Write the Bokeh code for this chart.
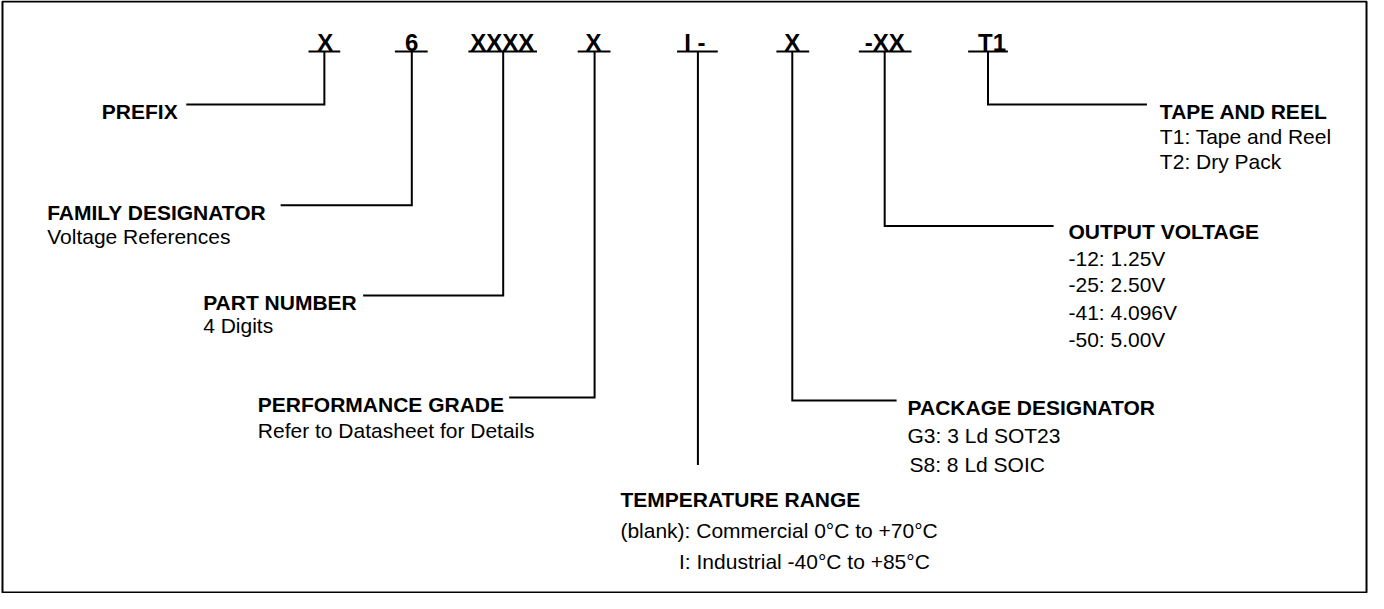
from bokeh.plotting import figure
from bokeh.models import ColumnDataSource, Range1d
from bokeh.core.properties import value
from bokeh.embed import file_html
from bokeh.resources import INLINE

# ---------------- content ----------------
codes = ["X", "6", "XXXX", "X", "I -", "X", "-XX", "T1"]
titles = ["PREFIX", "FAMILY DESIGNATOR", "PART NUMBER", "PERFORMANCE GRADE",
          "TEMPERATURE RANGE", "PACKAGE DESIGNATOR", "OUTPUT VOLTAGE", "TAPE AND REEL"]
details = [
    [],
    ["Voltage References"],
    ["4 Digits"],
    ["Refer to Datasheet for Details"],
    ["(blank): Commercial 0°C to +70°C", "I: Industrial -40°C to +85°C"],
    ["G3: 3 Ld SOT23", "S8: 8 Ld SOIC"],
    ["-12: 1.25V", "-25: 2.50V", "-41: 4.096V", "-50: 5.00V"],
    ["T1: Tape and Reel", "T2: Dry Pack"],
]

# ---------------- layout (reference pixel coordinates) ----------------
code_text_x = [330, 417, 508, 600, 702, 800, 893, 1001]
code_baseline = 44
ul_left = [313, 400, 474, 584, 684, 784, 867, 977]
ul_right = [345, 433, 543, 617, 725, 817, 920, 1017]
ul_y = 53
stem_x = [329, 417, 509, 601, 705, 800, 893, 997]
leader_y = [107, 210, 302, 406, 475, 409, 231, 107]
leader_end_x = [190, 285, 368, 515, None, 905, 1063, 1157]
title_x = [105, 50, 207, 262, 627, 916, 1078, 1170]
title_base = [114, 217, 309, 413, 510, 416, 237, 114]
detail_x = [[], [50], [207], [262], [627, 686], [916, 918], [1078] * 4, [1170, 1170]]
detail_base = [[], [242], [333], [440], [542, 573], [445, 474],
               [264, 291, 319, 347], [140, 165]]

FONT = "Liberation Sans"

p = figure(width=1368, height=593, x_range=Range1d(3, 1380), y_range=Range1d(606, 1),
           output_backend="svg", toolbar_location=None, min_border=0)
p.axis.visible = False
p.grid.visible = False
p.outline_line_color = None
p.background_fill_color = "white"
p.border_fill_color = "white"

# outer frame
p.quad(left=[5], right=[1378], top=[2], bottom=[605], fill_color=None,
       line_color="black", line_width=2)

# underlines
p.segment(x0=ul_left, x1=ul_right, y0=[ul_y] * len(codes), y1=[ul_y] * len(codes),
          line_color="black", line_width=2)

# leader lines
xs, ys = [], []
for sx, ly, ex in zip(stem_x, leader_y, leader_end_x):
    if ex is None:
        xs.append([sx, sx]); ys.append([ul_y, ly])
    else:
        xs.append([sx, sx, ex]); ys.append([ul_y, ly, ly])
p.multi_line(xs=xs, ys=ys, line_color="black", line_width=2, line_join="miter")

# code letters
p.text(x=code_text_x, y=[code_baseline] * len(codes), text=codes,
       text_font=value(FONT), text_font_style="bold", text_font_size="24px",
       text_align="center", text_baseline="alphabetic", text_color="black")

# titles
p.text(x=title_x, y=title_base, text=titles,
       text_font=value(FONT), text_font_style="bold", text_font_size="21px",
       text_align="left", text_baseline="alphabetic", text_color="black")

# details
dx, dy, dt = [], [], []
for xs_, ys_, ts_ in zip(detail_x, detail_base, details):
    dx += xs_; dy += ys_; dt += ts_
p.text(x=dx, y=dy, text=dt,
       text_font=value(FONT), text_font_style="normal", text_font_size="21px",
       text_align="left", text_baseline="alphabetic", text_color="black")

open("out.html", "w").write(file_html(p, INLINE))
